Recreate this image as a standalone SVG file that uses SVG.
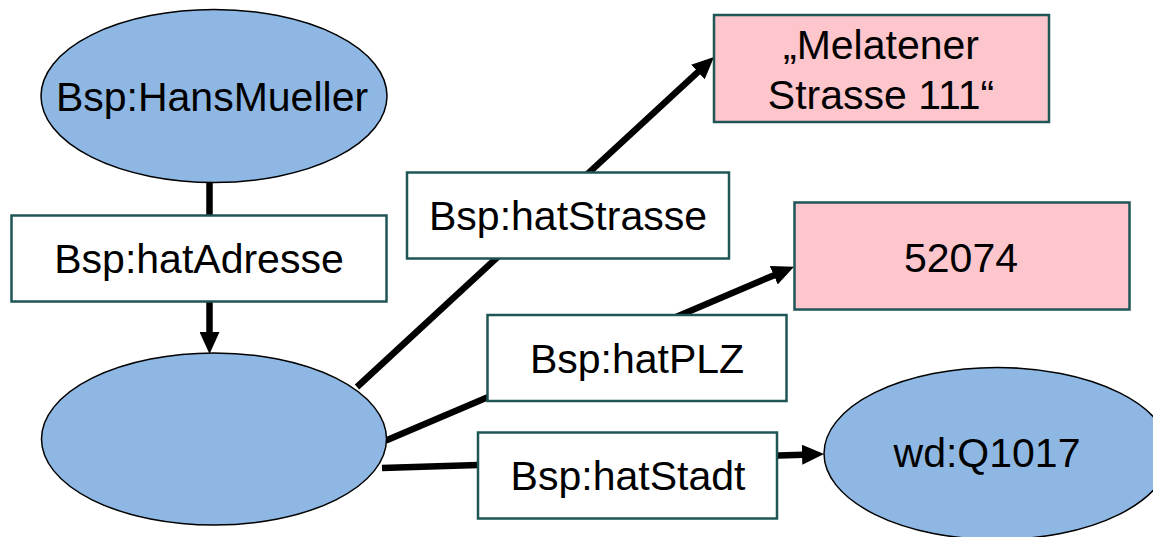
<svg xmlns="http://www.w3.org/2000/svg" width="1153" height="537" viewBox="0 0 1153 537">
  <style>
    .res { fill: #8EB8E3; stroke: #000; stroke-width: 1.5; }
    .lbl { fill: #FFFFFF; stroke: #1E5656; stroke-width: 2.5; }
    .lit { fill: #FDC5CC; stroke: #1E5656; stroke-width: 2.5; }
    .edge { stroke: #000; stroke-width: 6.5; fill: none; }
    text { font-family: "Liberation Sans", Arial, sans-serif; font-size: 41px; fill: #000; text-anchor: middle; }
  </style>
  <defs>
    <marker id="arrow" markerUnits="userSpaceOnUse" markerWidth="22" markerHeight="20" refX="1" refY="10" orient="auto">
      <path d="M0,0 L22,10 L0,20 Z" fill="#000"/>
    </marker>
  </defs>
  <rect width="1153" height="537" fill="#FFFFFF"/>
  <g id="connectors">
    <line class="edge" x1="209.5" y1="180" x2="209.5" y2="216"/>
    <line class="edge" x1="209.5" y1="301" x2="209.5" y2="333" marker-end="url(#arrow)"/>
    <line class="edge" x1="357" y1="387" x2="698.6" y2="71.3" marker-end="url(#arrow)"/>
    <line class="edge" x1="386" y1="440.5" x2="774.7" y2="274.9" marker-end="url(#arrow)"/>
    <line class="edge" x1="382" y1="468" x2="803" y2="454.7" marker-end="url(#arrow)"/>
  </g>
  <g id="node-hansmueller">
    <ellipse class="res" cx="214" cy="96" rx="173" ry="86.5"/>
    <text x="212" y="111">Bsp:HansMueller</text>
  </g>
  <g id="label-hatAdresse">
    <rect class="lbl" x="11.5" y="215.5" width="375" height="86"/>
    <text x="199" y="272.5">Bsp:hatAdresse</text>
  </g>
  <g id="node-address">
    <ellipse class="res" cx="214" cy="439" rx="172.5" ry="86"/>
  </g>
  <g id="label-hatStrasse">
    <rect class="lbl" x="407" y="172.5" width="322" height="86"/>
    <text x="568" y="230">Bsp:hatStrasse</text>
  </g>
  <g id="node-melatener">
    <rect class="lit" x="714" y="15" width="335" height="107"/>
    <text x="881" y="59">„Melatener</text>
    <text x="881" y="109">Strasse 111“</text>
  </g>
  <g id="node-52074">
    <rect class="lit" x="794.5" y="202.5" width="335" height="107"/>
    <text x="961" y="271.5">52074</text>
  </g>
  <g id="label-hatPLZ">
    <rect class="lbl" x="487.5" y="315" width="299" height="86"/>
    <text x="637" y="373">Bsp:hatPLZ</text>
  </g>
  <g id="label-hatStadt">
    <rect class="lbl" x="478" y="432.5" width="299" height="86"/>
    <text x="628" y="490">Bsp:hatStadt</text>
  </g>
  <g id="node-q1017">
    <ellipse class="res" cx="997" cy="453.5" rx="173" ry="86"/>
    <text x="987" y="467">wd:Q1017</text>
  </g>
</svg>
